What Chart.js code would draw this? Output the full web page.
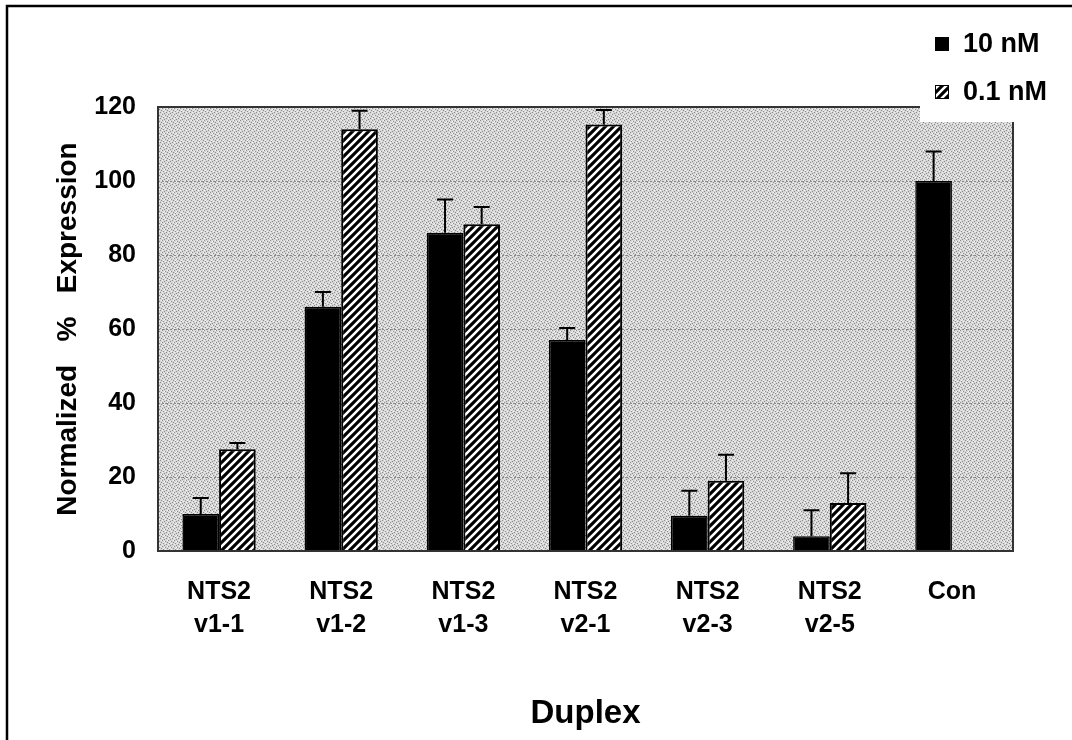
<!DOCTYPE html>
<html>
<head>
<meta charset="utf-8">
<script src="https://cdn.jsdelivr.net/npm/chart.js@4/dist/chart.umd.min.js"></script>
<style>
  html, body { margin: 0; padding: 0; background: #fff; }
  #wrap { width: 1072px; height: 740px; position: relative; }
</style>
</head>
<body>
<div id="wrap"><canvas id="chart1" width="1072" height="740"></canvas></div>
<script>

const categories = [['NTS2', 'v1-1'], ['NTS2', 'v1-2'], ['NTS2', 'v1-3'], ['NTS2', 'v2-1'], ['NTS2', 'v2-3'], ['NTS2', 'v2-5'], ['Con']];
const seriesNames = ['10 nM', '0.1 nM'];
const tenNM = [10, 66, 86, 57, 9.5, 4, 100];
const tenNMErr = [4.3, 4, 9, 3.3, 6.8, 7, 8];
const pointOneNM = [27.5, 114, 88.3, 115.3, 19, 13, null];
const pointOneNMErr = [1.7, 5, 4.7, 3.9, 7, 8, null];
const yTicks = [0, 20, 40, 60, 80, 100, 120];

const FONT = '"Liberation Sans", Arial, sans-serif';

function makeHatch() {
    const c = document.createElement('canvas');
    c.width = 8; c.height = 8;
    const g = c.getContext('2d');
    g.fillStyle = '#000';
    g.fillRect(0, 0, 8, 8);
    g.strokeStyle = '#fff';
    g.lineWidth = 2.6;
    g.beginPath();
    g.moveTo(-2, 10); g.lineTo(10, -2);
    g.moveTo(-6, 6); g.lineTo(6, -6);
    g.moveTo(2, 14); g.lineTo(14, 2);
    g.stroke();
    return g.createPattern(c, 'repeat');
}

function makeStipple() {
    // fixed dither tile for the grey plot background
    const c = document.createElement('canvas');
    c.width = 6; c.height = 6;
    const g = c.getContext('2d');
    g.fillStyle = '#d6d6d6';
    g.fillRect(0, 0, 6, 6);
    g.fillStyle = '#8c8c8c';
    [[0,0],[3,1],[1,3],[4,4],[2,5],[5,2]].forEach(function (p) {
        g.fillRect(p[0], p[1], 1, 1);
    });
    g.fillStyle = '#f4f4f4';
    [[2,1],[5,0],[0,4],[3,3],[1,2]].forEach(function (p) {
        g.fillRect(p[0], p[1], 1, 1);
    });
    return g.createPattern(c, 'repeat');
}

const hatch = makeHatch();
const stipple = makeStipple();
const errors = [tenNMErr, pointOneNMErr];

const plotBackground = {
    id: 'plotBackground',
    beforeDraw(chart) {
        const a = chart.chartArea, ctx = chart.ctx;
        ctx.save();
        ctx.fillStyle = stipple;
        ctx.fillRect(a.left, a.top, a.right - a.left, a.bottom - a.top);
        ctx.restore();
    },
    afterDraw(chart) {
        const a = chart.chartArea, ctx = chart.ctx;
        ctx.save();
        // plot border
        ctx.strokeStyle = '#333';
        ctx.lineWidth = 2;
        ctx.strokeRect(a.left, a.top, a.right - a.left, a.bottom - a.top);
        // outer frame (top + left only)
        ctx.strokeStyle = '#000';
        ctx.lineWidth = 2.5;
        ctx.beginPath();
        ctx.moveTo(7, 740); ctx.lineTo(7, 6); ctx.lineTo(1072, 6);
        ctx.stroke();
        // legend box
        ctx.fillStyle = '#fff';
        ctx.fillRect(920, 8, 152, 114);
        const fills = ['#000', hatch];
        seriesNames.forEach(function (name, i) {
            const y = 37 + i * 48;
            ctx.fillStyle = fills[i];
            ctx.fillRect(935, y, 14, 14);
            ctx.strokeStyle = '#000';
            ctx.lineWidth = 1;
            ctx.strokeRect(935.5, y + 0.5, 13, 13);
            ctx.fillStyle = '#000';
            ctx.font = 'bold 27px ' + FONT;
            ctx.textBaseline = 'middle';
            ctx.fillText(name, 963, y + 8);
        });
        ctx.restore();
    }
};

const errorBars = {
    id: 'errorBars',
    afterDatasetsDraw(chart) {
        const ctx = chart.ctx, yScale = chart.scales.y;
        ctx.save();
        ctx.strokeStyle = '#000';
        ctx.lineWidth = 2;
        chart.data.datasets.forEach(function (ds, di) {
            const meta = chart.getDatasetMeta(di);
            meta.data.forEach(function (bar, i) {
                const v = ds.data[i], e = errors[di][i];
                if (v == null || e == null) return;
                const yTop = yScale.getPixelForValue(v + e);
                ctx.beginPath();
                ctx.moveTo(bar.x, bar.y);
                ctx.lineTo(bar.x, yTop);
                ctx.moveTo(bar.x - 8, yTop);
                ctx.lineTo(bar.x + 8, yTop);
                ctx.stroke();
            });
        });
        ctx.restore();
    }
};

const chart1 = new Chart(document.getElementById('chart1'), {
    type: 'bar',
    data: {
        labels: categories,
        datasets: [
            { label: seriesNames[0], data: tenNM, backgroundColor: '#000', borderColor: '#000', borderWidth: 1.5 },
            { label: seriesNames[1], data: pointOneNM, backgroundColor: hatch, borderColor: '#000', borderWidth: 2 }
        ]
    },
    plugins: [plotBackground, errorBars],
    options: {
        responsive: false,
        animation: false,
        devicePixelRatio: 1,
        layout: { padding: { left: 0, right: 59, top: 107, bottom: 0 } },
        plugins: { legend: { display: false }, tooltip: { enabled: false } },
        datasets: { bar: { categoryPercentage: 0.6, barPercentage: 1.0 } },
        scales: {
            x: {
                grid: { display: false },
                border: { display: false },
                ticks: {
                    color: '#000',
                    font: { family: FONT, size: 25, weight: 'bold', lineHeight: 1.3 },
                    padding: 17,
                    maxRotation: 0
                },
                title: {
                    display: true,
                    text: 'Duplex',
                    color: '#000',
                    font: { family: FONT, size: 33, weight: 'bold' },
                    padding: { top: 40, bottom: 6 }
                },
                afterFit(scale) { scale.height = 740 - 551; }
            },
            y: {
                min: 0,
                max: 120,
                afterBuildTicks(scale) { scale.ticks = yTicks.map(function (v) { return { value: v }; }); },
                grid: { color: '#8a8a8a', lineWidth: 1, drawTicks: false },
                border: { display: false, dash: [2, 2] },
                ticks: {
                    color: '#000',
                    font: { family: FONT, size: 25, weight: 'bold' },
                    padding: 22
                },
                title: {
                    display: true,
                    text: 'Normalized   %   Expression',
                    color: '#000',
                    font: { family: FONT, size: 28, weight: 'bold' },
                    padding: { top: 51, bottom: 0 }
                },
                afterFit(scale) { scale.width = 158; }
            }
        }
    }
});
</script>
</body>
</html>
